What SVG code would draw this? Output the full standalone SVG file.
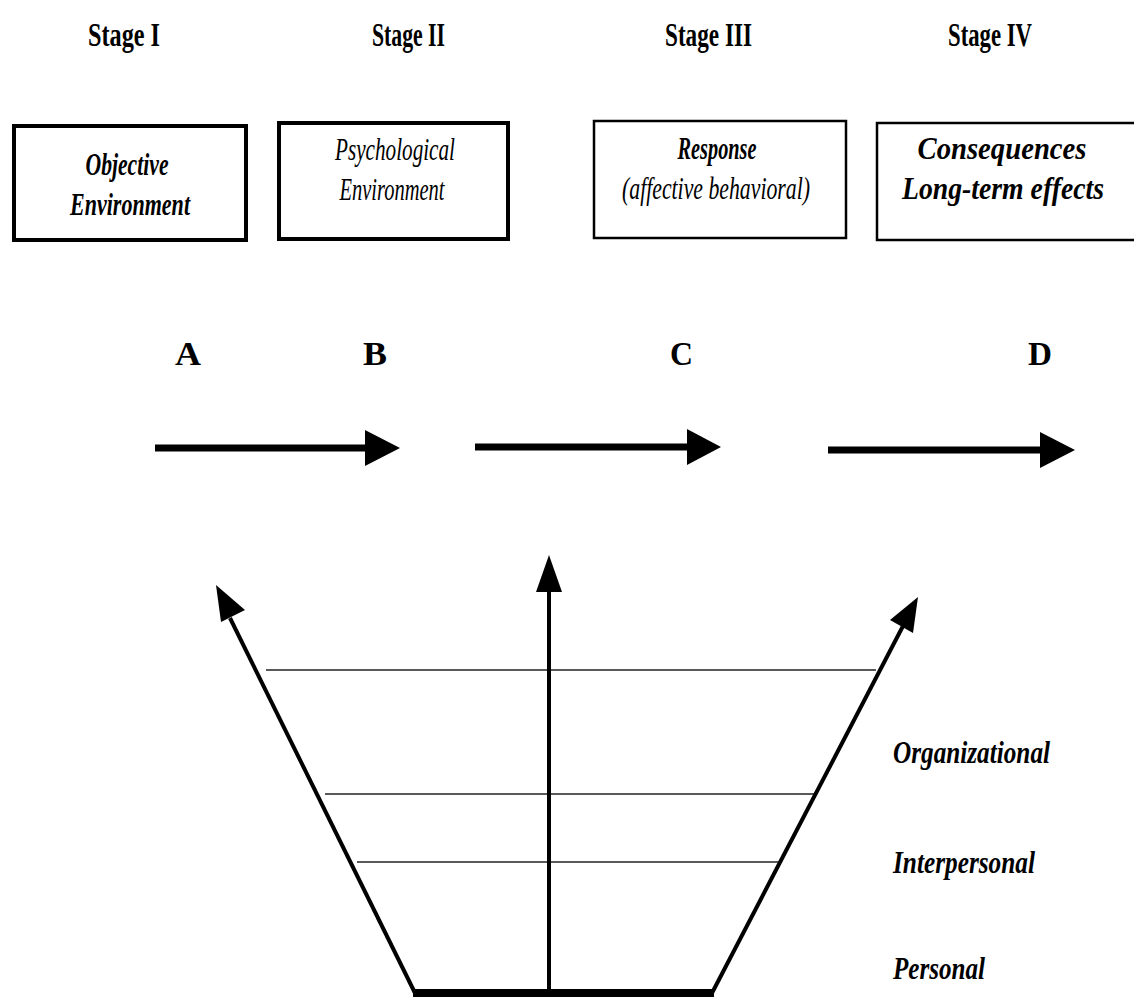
<svg xmlns="http://www.w3.org/2000/svg" width="1134" height="997" viewBox="0 0 1134 997">
<style>
.stage{font-family:"Liberation Serif",serif;font-weight:bold;font-size:33px;fill:#000}
.box{fill:#fff;stroke:#000}
.bt{font-family:"Liberation Serif",serif;font-style:italic;font-size:32px;fill:#000;text-anchor:middle}
.b{font-weight:bold}
.letter{font-family:"Liberation Serif",serif;font-weight:bold;font-size:33px;fill:#000}
.lvl{font-family:"Liberation Serif",serif;font-style:italic;font-weight:bold;font-size:31px;fill:#000}
.thick{stroke:#000;stroke-width:7;fill:none}
.med{stroke:#000;stroke-width:4;fill:none}
.thin{stroke:#222;stroke-width:1.5;fill:none}
.head{fill:#000}
</style>
<rect width="1134" height="997" fill="#fff"/>
<g id="stages">
<text class="stage" x="88" y="46" textLength="72" lengthAdjust="spacingAndGlyphs">Stage I</text>
<text class="stage" x="372" y="46" textLength="73" lengthAdjust="spacingAndGlyphs">Stage II</text>
<text class="stage" x="665" y="46" textLength="87" lengthAdjust="spacingAndGlyphs">Stage III</text>
<text class="stage" x="948" y="46" textLength="84" lengthAdjust="spacingAndGlyphs">Stage IV</text>
</g>
<g id="box1">
<rect class="box" x="14" y="126" width="232" height="114" stroke-width="4"/>
<text class="bt b" x="127" y="175" textLength="83" lengthAdjust="spacingAndGlyphs">Objective</text>
<text class="bt b" x="130" y="215" textLength="120" lengthAdjust="spacingAndGlyphs">Environment</text>
</g>
<g id="box2">
<rect class="box" x="279" y="123" width="229" height="116" stroke-width="4"/>
<text class="bt" x="395" y="160" textLength="120" lengthAdjust="spacingAndGlyphs">Psychological</text>
<text class="bt" x="392" y="200" textLength="105" lengthAdjust="spacingAndGlyphs">Environment</text>
</g>
<g id="box3">
<rect class="box" x="594" y="121" width="252" height="117" stroke-width="2.5"/>
<text class="bt b" x="717" y="159" textLength="79" lengthAdjust="spacingAndGlyphs">Response</text>
<text class="bt" x="716" y="199" textLength="188" lengthAdjust="spacingAndGlyphs">(affective behavioral)</text>
</g>
<g id="box4">
<rect class="box" x="877" y="123" width="262" height="117" stroke-width="2.5"/>
<text class="bt b" x="1002" y="159" textLength="169" lengthAdjust="spacingAndGlyphs">Consequences</text>
<text class="bt b" x="1003" y="199" textLength="202" lengthAdjust="spacingAndGlyphs">Long-term effects</text>
</g>
<g id="letters">
<text class="letter" x="175" y="365" textLength="26" lengthAdjust="spacingAndGlyphs">A</text>
<text class="letter" x="363" y="365" textLength="24" lengthAdjust="spacingAndGlyphs">B</text>
<text class="letter" x="670" y="365" textLength="23" lengthAdjust="spacingAndGlyphs">C</text>
<text class="letter" x="1028" y="365" textLength="24" lengthAdjust="spacingAndGlyphs">D</text>
</g>
<g id="levels">
<text class="lvl" x="893" y="763" textLength="157" lengthAdjust="spacingAndGlyphs">Organizational</text>
<text class="lvl" x="893" y="873" textLength="142" lengthAdjust="spacingAndGlyphs">Interpersonal</text>
<text class="lvl" x="893" y="979" textLength="92" lengthAdjust="spacingAndGlyphs">Personal</text>
</g>
<g id="connectors">
<line class="thick" x1="155" y1="448" x2="368" y2="448"/>
<polygon class="head" points="365,430 400,448 365,466"/>
<line class="thick" x1="475" y1="447" x2="690" y2="447"/>
<polygon class="head" points="687,429 721,447 687,465"/>
<line class="thick" x1="828" y1="450" x2="1043" y2="450"/>
<polygon class="head" points="1040,432 1075,450 1040,468"/>
<line class="thin" x1="266" y1="670" x2="876" y2="670"/>
<line class="thin" x1="325" y1="794" x2="814" y2="794"/>
<line class="thin" x1="357" y1="862" x2="778" y2="862"/>
<line class="med" x1="415" y1="993" x2="230" y2="618"/>
<polygon class="head" points="216,585 245,610 221,622"/>
<line class="med" x1="549" y1="993" x2="549" y2="590"/>
<polygon class="head" points="549,555 562,592 536,592"/>
<line class="med" x1="712" y1="993" x2="903" y2="626"/>
<polygon class="head" points="918,597 913,633 890,620"/>
<line x1="413" y1="993" x2="714" y2="993" stroke="#000" stroke-width="8"/>
</g>
</svg>
